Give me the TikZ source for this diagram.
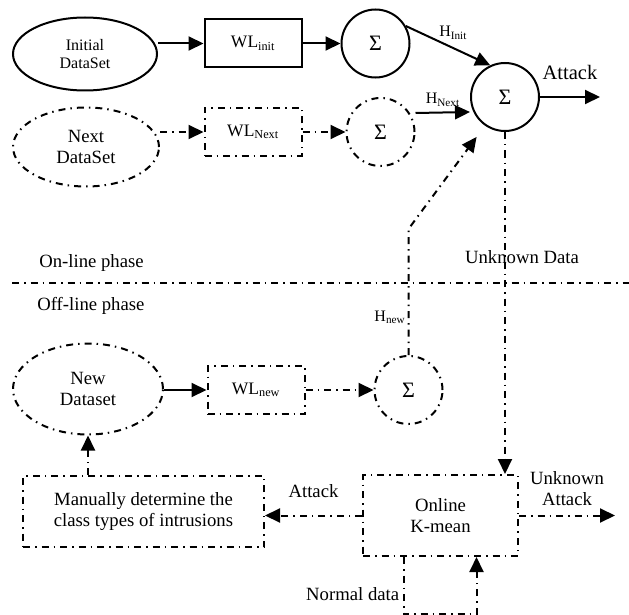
\documentclass[tikz,border=0pt]{standalone}
\usepackage{fontspec}
\setmainfont{Liberation Serif}
\usetikzlibrary{arrows.meta,shapes.geometric,positioning}

\begin{document}
\begin{tikzpicture}[x=1pt,y=-1pt,>={Triangle[length=15pt,width=14pt]},
                    line width=2pt,font=\fontsize{18.7}{21.5}\selectfont,
                    data node/.style={ellipse,draw,inner sep=0pt,align=center},
                    wl node/.style={rectangle,draw,minimum width=97pt,minimum height=48pt,
                                    inner sep=0pt,font=\fontsize{17.5}{20}\selectfont},
                    sum node/.style={circle,draw,minimum size=68pt,inner sep=0pt,
                                     font=\fontsize{22}{24}\selectfont},
                    box node/.style={rectangle,draw,inner sep=0pt,align=center},
                    dotdash/.style={dash pattern=on 7pt off 5pt on 1.5pt off 5pt},
                    h label/.style={font=\fontsize{16}{18}\selectfont}]
\useasboundingbox (0,0) rectangle (629,615);

% on-line part
\node[data node,minimum width=144pt,minimum height=73pt,
      font=\fontsize{16}{18}\selectfont] (init) at (85,54) {Initial\\DataSet};
\node[wl node] (wlinit) at (253,43.5) {WL\textsubscript{init}};
\node[sum node] (sumA) [right=38pt of wlinit] {Σ};
\node[sum node] (sumAll) at (505,97) {Σ};
\coordinate (attack) at (600,97);

\node[data node,dotdash,minimum width=146pt,minimum height=79pt] (next) at (86,147) {Next\\DataSet};
\node[wl node,dotdash] (wlnext) at (253,132) {WL\textsubscript{Next}};
\node[sum node,dotdash] (sumB) [right=43pt of wlnext] {Σ};

% off-line part
\node[data node,dotdash,minimum width=150pt,minimum height=91pt] (new) at (88,389) {New\\Dataset};
\node[wl node,dotdash] (wlnew) at (256,390) {WL\textsubscript{new}};
\node[sum node,dotdash] (sumC) [right=68pt of wlnew] {Σ};
\node[box node,dotdash,minimum width=241pt,minimum height=71pt] (manual) at (143.5,511.5)
      {Manually determine the\\class types of intrusions};
\node[box node,dotdash,minimum width=155pt,minimum height=81pt] (kmean) at (440.5,515.5) {Online\\K-mean};
\coordinate (unknown) at (615,515.5);

% phase separator
\draw[dotdash] (12,283) -- (629,283);
\node[anchor=base west] (online) at (35,267) {On-line phase};
\node[anchor=base west] (offline) at (33,310) {Off-line phase};

\path[->]
(init.east |- wlinit) edge (wlinit)
(wlinit) edge (sumA)
(sumA.30) edge node[h label,above=4pt,pos=.56] {H\textsubscript{Init}} (sumAll.115)
(sumAll) edge node[above=13pt,font=\fontsize{20.5}{24}\selectfont] {Attack} (attack)
([yshift=19pt]sumB.east) edge node[h label,above=2pt] {H\textsubscript{Next}} ([yshift=-15pt]sumAll.west)
(new.east |- wlnew) edge (wlnew);

\path[->,dotdash]
(next.east |- wlnext) edge (wlnext)
(wlnext) edge (sumB)
(wlnew) edge (sumC)
(new.south |- manual.north) edge (new.south)
(sumAll.south) edge node[pos=.365,xshift=17pt] {Unknown Data} (sumAll.south |- kmean.north)
(kmean.west) edge node[above=13pt] {Attack} (kmean.west -| manual.east)
(kmean.east) edge node[above=5pt,align=center] {Unknown\\Attack} (unknown);

% feedback of the new sum and the normal data loop
\draw[->,dotdash,shorten >=14pt] (sumC.north) -- node[h label,pos=.3,left=-1pt] {H\textsubscript{new}}
      ++(0,-126) -- (sumAll.235);
\draw[->,dotdash] ([xshift=-37pt]kmean.south) -- node[pos=.65,left] {Normal data}
      ++(0,57) -| ([xshift=36pt]kmean.south);
\end{tikzpicture}
\end{document}
